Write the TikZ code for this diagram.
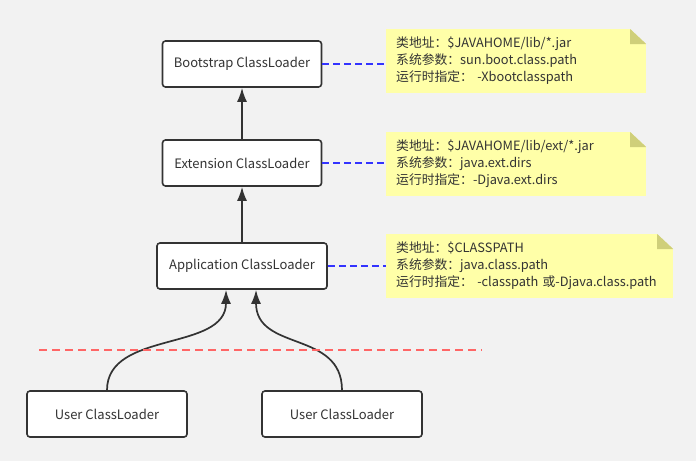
\documentclass[tikz,border=0pt]{standalone}
\usepackage{fontspec}
\setmainfont{Noto Sans CJK SC}
\usetikzlibrary{arrows.meta}
\definecolor{bggrey}{HTML}{F2F2F2}
\definecolor{inkgrey}{HTML}{333333}
\definecolor{notefill}{HTML}{FFFFA8}
\definecolor{foldfill}{HTML}{CFCF7A}
\definecolor{linkblue}{HTML}{3333FF}
\definecolor{cutred}{HTML}{FF6666}
\begin{document}
\begin{tikzpicture}[
  x=1pt, y=-1pt,
  every node/.style={text=inkgrey},
  loader/.style={draw=inkgrey, line width=1.6pt, rounded corners=3pt, fill=white,
    minimum height=46pt, font=\fontsize{13}{15}\selectfont},
  note/.style={fill=notefill, inner xsep=10pt, inner ysep=0pt, minimum height=64pt,
    align=left, font=\fontsize{12.8}{17}\selectfont,
    path picture={
      \fill[bggrey] ([xshift=-16pt]path picture bounding box.north east)
        -- (path picture bounding box.north east)
        -- ([yshift=-15pt]path picture bounding box.north east) -- cycle;
      \fill[foldfill] ([xshift=-16pt]path picture bounding box.north east)
        -- ([xshift=-16pt,yshift=-15pt]path picture bounding box.north east)
        -- ([yshift=-15pt]path picture bounding box.north east) -- cycle;
    }},
  parent/.style={draw=inkgrey, line width=1.7pt, -{Latex[length=14pt,width=10pt]}},
  link/.style={draw=linkblue, line width=1.3pt, dash pattern=on 7pt off 4pt}
]
\fill[bggrey] (0,0) rectangle (696,461);
\useasboundingbox (0,0) rectangle (696,461);

\node[loader, minimum width=159pt] (bootstrap) at (242,64) {Bootstrap ClassLoader};
\node[loader, minimum width=159pt] (extension) at (242,163) {Extension ClassLoader};
\node[loader, minimum width=170pt] (application) at (242,266) {Application ClassLoader};
\node[loader, minimum width=160pt] (user1) at (107,414) {User ClassLoader};
\node[loader, minimum width=160pt] (user2) at (342,414) {User ClassLoader};

\node[note, text width=240pt, anchor=west] (bootnote) at (386,61)
  {类地址：\$JAVAHOME/lib/*.jar\\系统参数：sun.boot.class.path\\运行时指定：~-Xbootclasspath};
\node[note, text width=240pt, anchor=west] (extnote) at (386,164)
  {类地址：\$JAVAHOME/lib/ext/*.jar\\系统参数：java.ext.dirs\\运行时指定：-Djava.ext.dirs};
\node[note, text width=267pt, anchor=west] (appnote) at (386,266)
  {类地址：\$CLASSPATH\\系统参数：java.class.path\\运行时指定：~-classpath 或-Djava.class.path};

\coordinate (cutleft) at (39,350);
\coordinate (cutright) at (482,350);

\draw[parent] (extension) -- (bootstrap);
\draw[parent] (application) -- (extension);
\draw[parent] (user1.north) .. controls (107,330) and ([xshift=-16pt]application.south |- 0,352) .. ([xshift=-16pt]application.south);
\draw[parent] (user2.north) .. controls (342,330) and ([xshift=14pt]application.south |- 0,352) .. ([xshift=14pt]application.south);

\draw[link] (bootstrap.east) -- (bootnote.west |- bootstrap.east);
\draw[link] (extension.east) -- (extnote.west |- extension.east);
\draw[link] (application.east) -- (appnote.west |- application.east);
\draw[cutred, line width=1.3pt, dash pattern=on 8pt off 5pt] (cutleft) -- (cutright);
\end{tikzpicture}
\end{document}
